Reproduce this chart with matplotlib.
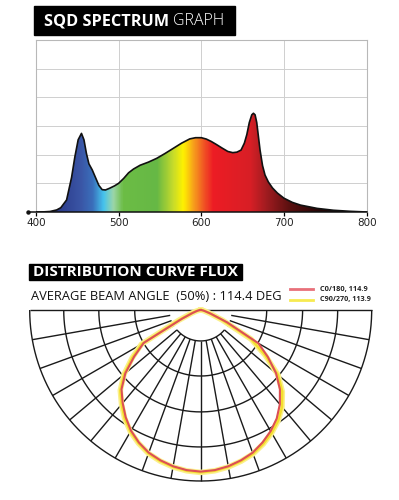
import numpy as np
import matplotlib
matplotlib.use("Agg")
import matplotlib.pyplot as plt
from matplotlib.colors import LinearSegmentedColormap
from matplotlib.patches import Rectangle
from matplotlib.lines import Line2D
from matplotlib import font_manager

# ---------------- data ----------------
wavelength_nm = [400, 410, 417, 425, 430, 437, 443, 447, 451, 455, 458, 461, 464, 468, 472,
                 476, 480, 484, 489, 495, 500, 506, 512, 518, 526, 536, 546, 556, 566, 576,
                 586, 593, 600, 606, 612, 618, 625, 632, 638, 643, 648, 652, 655, 658, 661,
                 663, 665, 667, 669, 671, 674, 677, 681, 686, 692, 700, 710, 720, 740, 760,
                 780, 800]
rel_intensity = [0.0, 0.001, 0.003, 0.012, 0.025, 0.07, 0.20, 0.32, 0.42, 0.457, 0.42, 0.34,
                 0.28, 0.245, 0.20, 0.155, 0.13, 0.128, 0.138, 0.152, 0.167, 0.195, 0.228,
                 0.25, 0.272, 0.29, 0.312, 0.34, 0.37, 0.40, 0.425, 0.432, 0.432, 0.424, 0.41,
                 0.393, 0.372, 0.352, 0.345, 0.348, 0.36, 0.40, 0.45, 0.52, 0.565, 0.574,
                 0.565, 0.52, 0.44, 0.36, 0.27, 0.215, 0.175, 0.14, 0.11, 0.08, 0.056, 0.04,
                 0.021, 0.01, 0.004, 0.0]
x_ticks = [400, 500, 600, 700, 800]

beam_angles = list(range(-90, 95, 5))
c0_180 = [0, 0.005, 0.012, 0.025, 0.05, 0.12, 0.385, 0.475, 0.575, 0.655, 0.71, 0.765,
          0.815, 0.855, 0.888, 0.91, 0.928, 0.94, 0.945,
          0.94, 0.928, 0.91, 0.888, 0.855, 0.818, 0.775, 0.72, 0.655, 0.575, 0.48, 0.39,
          0.17, 0.06, 0.025, 0.012, 0.005, 0]
c90_270 = [0, 0.005, 0.012, 0.03, 0.06, 0.14, 0.40, 0.49, 0.585, 0.665, 0.72, 0.775,
           0.822, 0.86, 0.893, 0.915, 0.932, 0.944, 0.95,
           0.944, 0.932, 0.915, 0.895, 0.865, 0.83, 0.79, 0.74, 0.675, 0.59, 0.46, 0.34,
           0.14, 0.055, 0.025, 0.012, 0.005, 0]
ring_radii = [0.181, 0.386, 0.596, 0.801, 1.0]
spoke_angles = list(range(-80, 90, 10))
legend_labels = ["C0/180, 114.9", "C90/270, 113.9"]

spectrum_stops = [(400, "#24306f"), (425, "#2b3a8a"), (453, "#3a55a5"), (468, "#3a6fbb"),
                  (481, "#45c3ee"), (493, "#9dd6a8"), (505, "#6cbd45"), (546, "#66b845"),
                  (566, "#c8dc2a"), (578, "#fff200"), (590, "#f7a21b"), (602, "#f15a24"),
                  (614, "#ed1c24"), (659, "#d81f26"), (679, "#a01c20"), (707, "#5a1010"),
                  (740, "#2a0707"), (800, "#000000")]

# ---------------- fonts ----------------
avail = {f.name for f in font_manager.fontManager.ttflist}
FONT = "Open Sans" if "Open Sans" in avail else "DejaVu Sans"
NARROW = "Liberation Sans Narrow" if "Liberation Sans Narrow" in avail else "DejaVu Sans"

W, H = 399, 500
fig = plt.figure(figsize=(W / 100, H / 100), dpi=100)


def fx(px):
    return px / W


def fy(py):
    return 1 - py / H


renderer = fig.canvas.get_renderer()


def fit(t, target_w):
    bb = t.get_window_extent(renderer)
    t.set_fontsize(t.get_fontsize() * target_w / bb.width)


# ---------------- spectrum ----------------
ax = fig.add_axes([fx(36), fy(212), fx(366.7) - fx(36), fy(40) - fy(212)])
ax.set_xlim(400, 800)
ax.set_ylim(0, 1)
ax.set_yticks([k / 6 for k in range(1, 6)])
ax.set_xticks(x_ticks)
ax.grid(True, color="#cfcfcf", lw=0.7)
ax.set_axisbelow(True)
for s in ["top", "left", "right"]:
    ax.spines[s].set_color("#b8b8b8")
    ax.spines[s].set_linewidth(0.8)
ax.spines["bottom"].set_visible(False)
ax.tick_params(axis="y", length=0, labelleft=False)
ax.tick_params(axis="x", direction="out", length=3, width=0.9, color="black", pad=1.5,
               labelsize=7.5)
for lab in ax.get_xticklabels():
    lab.set_fontfamily(NARROW)
    lab.set_color("#222222")

cmap = LinearSegmentedColormap.from_list(
    "spec", [((w - 400) / 400, c) for w, c in spectrum_stops])
grad = np.linspace(0, 1, 800).reshape(1, -1)
im = ax.imshow(grad, extent=[400, 800, 0, 1], aspect="auto", cmap=cmap,
               origin="lower", zorder=2)
poly = ax.fill_between(wavelength_nm, rel_intensity, 0, facecolor="none",
                       edgecolor="none", zorder=2)
im.set_clip_path(poly.get_paths()[0], transform=ax.transData)
ax.plot(wavelength_nm, rel_intensity, color="#111111", lw=1.2, zorder=3)
ax.plot([390, 800], [0, 0], color="#111111", lw=1.1, clip_on=False, zorder=4)
ax.plot([390], [0], "o", color="#111111", ms=2.2, clip_on=False, zorder=4)

# title 1
fig.patches.append(Rectangle((fx(34), fy(35)), fx(235) - fx(34), fy(6) - fy(35),
                             transform=fig.transFigure, color="black", zorder=0))
t1 = fig.text(fx(44), fy(21), "SQD SPECTRUM", color="white", fontsize=13,
              fontweight="bold", family=FONT, ha="left", va="center")
fit(t1, 124)
t2 = fig.text(fx(173), fy(21), "GRAPH", color="white", fontsize=13,
              fontweight="light", family=FONT, ha="left", va="center")
fit(t2, 51)

# ---------------- distribution curve ----------------
fig.patches.append(Rectangle((fx(29), fy(280)), fx(242) - fx(29), fy(264) - fy(280),
                             transform=fig.transFigure, color="black", zorder=0))
t3 = fig.text(fx(33), fy(272.5), "DISTRIBUTION CURVE FLUX", color="white", fontsize=10,
              fontweight="bold", family=FONT, ha="left", va="center")
fit(t3, 205)
t4 = fig.text(fx(31), fy(296), "AVERAGE BEAM ANGLE  (50%) : 114.4 DEG", color="#111111",
              fontsize=9, fontweight="normal", family=FONT, ha="left", va="center")
fit(t4, 250)

fig.lines.append(Line2D([fx(290), fx(313)], [fy(288.5), fy(288.5)], transform=fig.transFigure,
                        color="#e8707a", lw=2))
fig.lines.append(Line2D([fx(290), fx(313)], [fy(299.5), fy(299.5)], transform=fig.transFigure,
                        color="#f7ea50", lw=2))
l1 = fig.text(fx(320), fy(289), legend_labels[0], fontsize=5, fontweight="bold",
              family=FONT, ha="left", va="center", color="#222222")
fit(l1, 47.7)
l2 = fig.text(fx(320), fy(300), legend_labels[1], fontsize=5, fontweight="bold",
              family=FONT, ha="left", va="center", color="#222222")
fit(l2, 51.7)

R = 171.0
cx, cy = 200.7, 310.0
pa = fig.add_axes([fx(cx - 1.02 * R), fy(cy + 1.02 * R), fx(2.04 * R), (1.04 * R) / H])
pa.set_xlim(-1.02, 1.02)
pa.set_ylim(-1.02, 0.02)
pa.axis("off")

gl = dict(color="#1a1a1a", lw=1.0, solid_capstyle="butt")
pa.plot([-1, 1], [0, 0], **gl)
for r in ring_radii:
    if r == ring_radii[0]:
        th = np.radians(np.linspace(-50, 50, 60))
    else:
        th = np.radians(np.linspace(-90, 90, 180))
    pa.plot(r * np.sin(th), -r * np.cos(th), **gl)
for a in spoke_angles:
    t = np.radians(a)
    pa.plot([ring_radii[0] * np.sin(t), np.sin(t)],
            [-ring_radii[0] * np.cos(t), -np.cos(t)], **gl)


def to_xy(vals):
    th = np.radians(beam_angles)
    v = np.asarray(vals)
    return v * np.sin(th), -v * np.cos(th)


yx, yy = to_xy(c90_270)
pa.plot(yx, yy, color="#fbf08c", lw=4.0, solid_joinstyle="round", zorder=5)
pa.plot(yx, yy, color="#f4df2e", lw=1.8, solid_joinstyle="round", zorder=6)
rx, ry = to_xy(c0_180)
pa.plot(rx, ry, color="#dc4f55", lw=1.5, solid_joinstyle="round", zorder=7)

fig.savefig("out.png", dpi=100)
